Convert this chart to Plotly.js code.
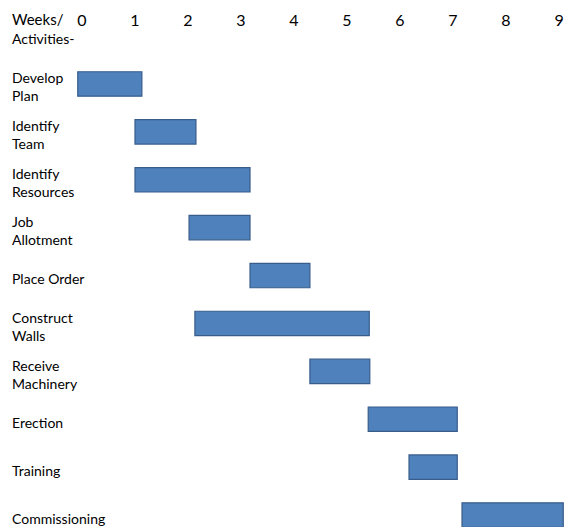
<!DOCTYPE html>
<html>
<head>
<meta charset="utf-8">
<script src="https://cdn.plot.ly/plotly-3.0.1.min.js"></script>
<style>html,body{margin:0;padding:0;background:#fff;}#chart{width:564px;height:527px;}</style>
</head>
<body>
<div id="chart"></div>
<script>
// Activities (top to bottom) and their start / end weeks
const activities = ["Develop Plan", "Identify Team", "Identify Resources", "Job Allotment", "Place Order",
  "Construct Walls", "Receive Machinery", "Erection", "Training", "Commissioning"];
const labelText = ["Develop<br>Plan", "Identify<br>Team", "Identify<br>Resources", "Job<br>Allotment", "Place Order",
  "Construct<br>Walls", "Receive<br>Machinery", "Erection", "Training", "Commissioning"];
const startWeek = [-0.08, 1.0, 1.0, 2.02, 3.17, 2.13, 4.30, 5.40, 6.17, 7.17];
const endWeek   = [1.13, 2.15, 3.17, 3.17, 4.30, 5.42, 5.43, 7.08, 7.08, 9.08];
const weekTicks = [0, 1, 2, 3, 4, 5, 6, 7, 8, 9];

const W = 564, H = 527;
const M = {l: 76, r: 0, t: 30, b: 0};
const plotW = W - M.l - M.r, plotH = H - M.t - M.b;
const FONT = "Lato, 'Open Sans', sans-serif";
const labelX = (10 - M.l) / plotW;

const trace = {
  type: "bar",
  orientation: "h",
  y: activities,
  base: startWeek,
  x: endWeek.map((e, i) => e - startWeek[i]),
  width: 0.51,
  marker: {color: "#4F81BD", line: {color: "#385D8A", width: 1.2}},
  hoverinfo: "skip"
};

const annotations = activities.map((a, i) => ({
  xref: "paper", yref: "y", x: labelX, y: a,
  text: labelText[i], showarrow: false, xanchor: "left", yanchor: "middle", align: "left",
  yshift: -3,
  font: {family: FONT, size: 14, color: "#000"}
}));
annotations.push({
  xref: "paper", yref: "paper", x: labelX, y: (H - M.b - 19) / plotH,
  text: "Weeks/", showarrow: false, xanchor: "left", yanchor: "middle",
  font: {family: FONT, size: 15, color: "#000"}
});
annotations.push({
  xref: "paper", yref: "paper", x: labelX, y: (H - M.b - 38) / plotH,
  text: "Activities-", showarrow: false, xanchor: "left", yanchor: "middle",
  font: {family: FONT, size: 14, color: "#000"}
});

const layout = {
  width: W, height: H,
  margin: M,
  paper_bgcolor: "#fff", plot_bgcolor: "#fff",
  showlegend: false,
  xaxis: {
    side: "top", range: [-0.113, 9.094],
    tickmode: "array", tickvals: weekTicks, ticktext: weekTicks.map(String),
    showgrid: false, zeroline: false, showline: false, ticks: "",
    tickfont: {family: FONT, size: 16, color: "#000"}
  },
  yaxis: {
    type: "category", categoryarray: activities, categoryorder: "array",
    range: [9.25, -1.127],
    showgrid: false, zeroline: false, showline: false, ticks: "", showticklabels: false
  },
  annotations: annotations
};

Plotly.newPlot("chart", [trace], layout, {displayModeBar: false, staticPlot: true});
</script>
</body>
</html>
